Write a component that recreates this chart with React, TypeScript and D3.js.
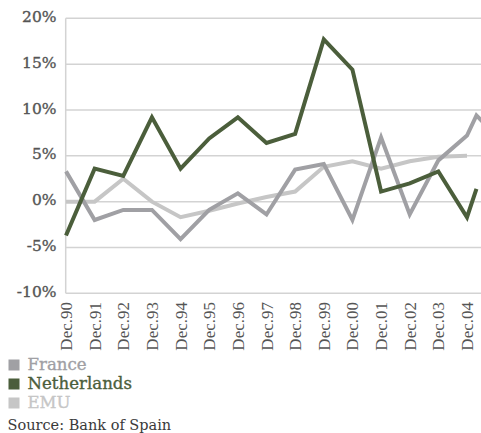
import React from "react";
import * as d3 from "d3";

const categories = ["Dec.90","Dec.91","Dec.92","Dec.93","Dec.94","Dec.95","Dec.96","Dec.97","Dec.98","Dec.99","Dec.00","Dec.01","Dec.02","Dec.03","Dec.04"];
// x positions as period index (0 = Dec.90); last entries fall after Dec.04
const franceX = [0,1,2,3,4,5,6,7,8,9,10,11,12,13,14,14.33,14.67];
const franceValues = [3.3,-2.0,-0.9,-0.9,-4.1,-0.9,0.9,-1.4,3.5,4.1,-2.0,7.0,-1.4,4.5,7.2,9.4,8.3];
const netherlandsX = [0,1,2,3,4,5,6,7,8,9,10,11,12,13,14,14.33];
const netherlandsValues = [-3.7,3.6,2.8,9.2,3.6,6.9,9.2,6.4,7.4,17.7,14.4,1.1,2.0,3.3,-1.7,1.4];
const emuX = [0,1,2,3,4,5,6,7,8,9,10,11,12,13,14];
const emuValues = [0.0,0.0,2.5,0.0,-1.7,-1.0,-0.2,0.5,1.1,3.8,4.4,3.6,4.4,4.9,5.0];
const yTicks = [20,15,10,5,0,-5,-10];
const legendLabels = ["France","Netherlands","EMU"];
const sourceText = "Source: Bank of Spain";

const COLORS = { France: "#a0a0a4", Netherlands: "#4b5e3b", EMU: "#c6c6c6" };
const SERIF = "'DejaVu Serif', 'Liberation Serif', 'Times New Roman', serif";
const SERIF2 = "'Liberation Serif', 'DejaVu Serif', 'Times New Roman', serif";

export default function App() {
  const W = 481, H = 433;
  const left = 65.7, right = 481;
  const x = d3.scaleLinear().domain([0, 14]).range([66, 467]);
  const y = d3.scaleLinear().domain([-10, 20]).range([293.3, 18.3]);
  const line = d3.line<[number, number]>().x(d => x(d[0])).y(d => y(d[1]));
  const series = [
    { name: "France", xs: franceX, vs: franceValues },
    { name: "Netherlands", xs: netherlandsX, vs: netherlandsValues },
    { name: "EMU", xs: emuX, vs: emuValues },
  ];
  const drawOrder = ["EMU", "France", "Netherlands"];
  return (
    <svg width={W} height={H} style={{ position: "absolute", left: 0, top: 0, overflow: "hidden", background: "#fff" }}>
      <rect x={0} y={0} width={W} height={H} fill="#fff" />
      {yTicks.map(t => (
        <g key={t}>
          <line x1={left} x2={right} y1={y(t)} y2={y(t)} stroke="#d3d3d3" strokeWidth={1.5} />
          <text x={56.5} y={y(t) + 3.6} textAnchor="end" style={{ fontFamily: SERIF, fontSize: 15.5 }} fill="#555" stroke="#555" strokeWidth={0.35}>{t}%</text>
        </g>
      ))}
      <line x1={left} x2={left} y1={y(20)} y2={y(-10)} stroke="#d3d3d3" strokeWidth={1.5} />
      {categories.map((c, i) => (
        <text key={c} transform={`translate(${x(i) + 6},${302}) rotate(-90)`} textAnchor="end" style={{ fontFamily: SERIF2, fontSize: 17 }} fill="#555">{c}</text>
      ))}
      {drawOrder.map(n => {
        const s = series.find(d => d.name === n)!;
        const pts = s.xs.map((xv, i) => [xv, s.vs[i]] as [number, number]);
        return <path key={n} d={line(pts) || ""} fill="none" stroke={(COLORS as any)[n]} strokeWidth={4} strokeLinejoin="miter" />;
      })}
      {legendLabels.map((l, i) => (
        <g key={l}>
          <rect x={8.5} y={359.5 + i * 19} width={11} height={11} fill={(COLORS as any)[l]} />
          <text x={27.5} y={370 + i * 19} style={{ fontFamily: SERIF, fontSize: 16.6 }} fill={(COLORS as any)[l]} stroke={(COLORS as any)[l]} strokeWidth={0.35}>{l}</text>
        </g>
      ))}
      <text x={7.5} y={430} style={{ fontFamily: SERIF, fontSize: 14.5 }} fill="#3a3a3a">{sourceText}</text>
    </svg>
  );
}
